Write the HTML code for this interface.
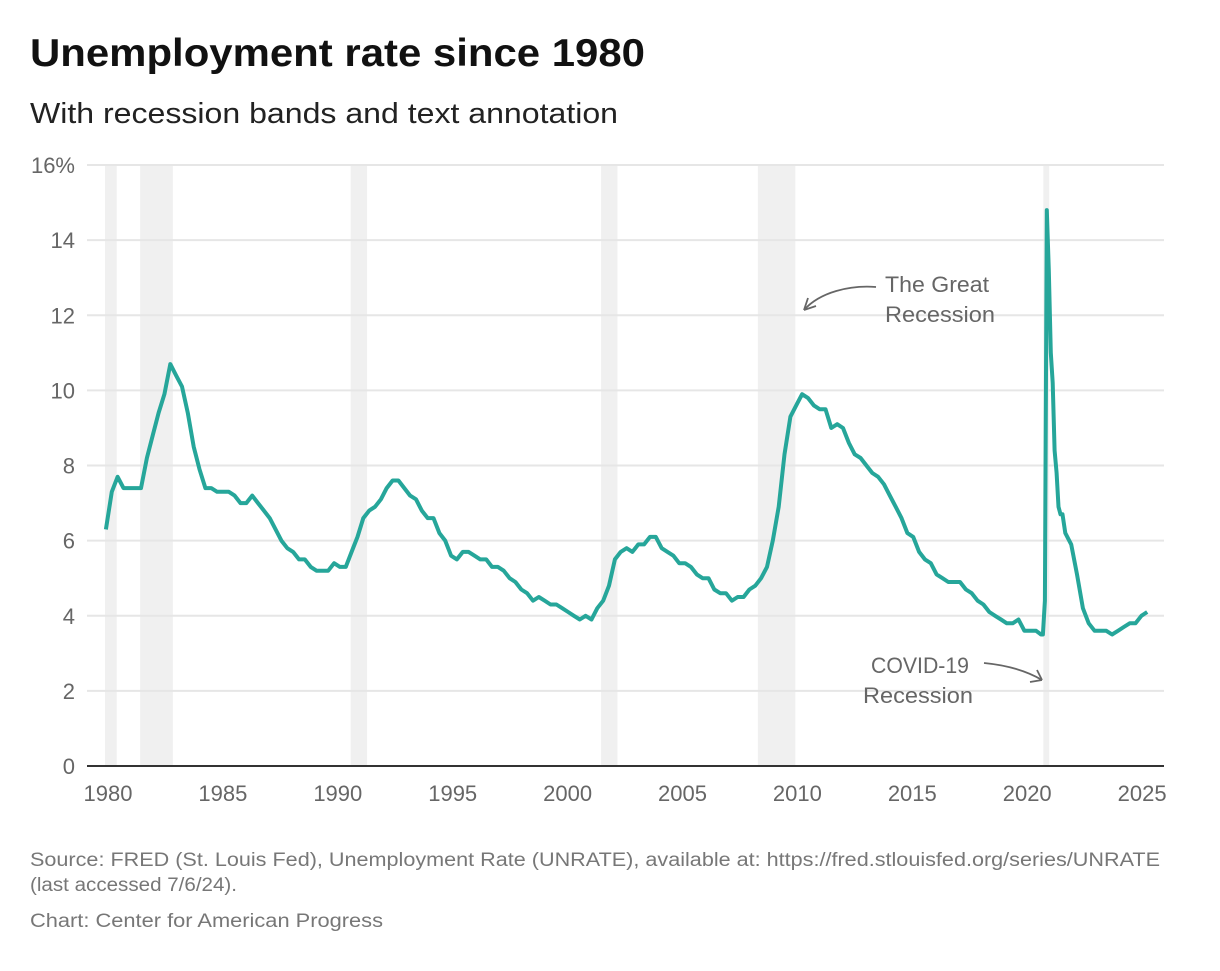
<!DOCTYPE html>
<html><head><meta charset="utf-8"><style>
body{margin:0;background:#fff;font-family:"Liberation Sans",sans-serif;}
#wrap{position:relative;width:1220px;height:966px;}
</style></head><body>
<div id="wrap">
<svg id="chart" width="1220" height="966">
<text x="30" y="66" font-size="39" font-weight="bold" fill="#111" textLength="615" lengthAdjust="spacingAndGlyphs">Unemployment rate since 1980</text>
<text x="30" y="123" font-size="29" fill="#222" textLength="588" lengthAdjust="spacingAndGlyphs">With recession bands and text annotation</text>
<g id="bands"></g><g id="grid"></g><g id="line"></g><g id="axes"></g>
<g>
<text x="937" y="292" font-size="22" fill="#666" text-anchor="middle" textLength="104" lengthAdjust="spacingAndGlyphs">The Great</text>
<text x="940" y="322" font-size="22" fill="#666" text-anchor="middle" textLength="110" lengthAdjust="spacingAndGlyphs">Recession</text>
<path d="M876,287 C850,285 820,292 804,310" stroke="#666" stroke-width="1.8" fill="none"/>
<path d="M804,310 L816,306 M804,310 L808,298" stroke="#666" stroke-width="1.8" fill="none"/>
</g>
<g>
<text x="920" y="673" font-size="22" fill="#666" text-anchor="middle" textLength="98" lengthAdjust="spacingAndGlyphs">COVID-19</text>
<text x="918" y="703" font-size="22" fill="#666" text-anchor="middle" textLength="110" lengthAdjust="spacingAndGlyphs">Recession</text>
<path d="M984,663 C1005,665 1025,670 1042,680" stroke="#666" stroke-width="1.8" fill="none"/>
<path d="M1042,680 L1030,682 M1042,680 L1037,670" stroke="#666" stroke-width="1.8" fill="none"/>
</g>
<text x="30" y="866" font-size="19" fill="#777" textLength="1130" lengthAdjust="spacingAndGlyphs">Source: FRED (St. Louis Fed), Unemployment Rate (UNRATE), available at: https://fred.stlouisfed.org/series/UNRATE</text>
<text x="30" y="891" font-size="19" fill="#777" textLength="207" lengthAdjust="spacingAndGlyphs">(last accessed 7/6/24).</text>
<text x="30" y="927" font-size="19" fill="#777" textLength="353" lengthAdjust="spacingAndGlyphs">Chart: Center for American Progress</text>
</svg>
</div>
<script>
const yTicks=[0,2,4,6,8,10,12,14,16];
const xTickLabels=[1980,1985,1990,1995,2000,2005,2010,2015,2020,2025];
const recessionStarts=[1980.0,1981.5,1990.5,2001.2,2007.9,2020.1];
const recessionEnds=[1980.5,1982.9,1991.2,2001.9,2009.5,2020.35];
const quarterly=[6.3,7.3,7.7,7.4, 7.4,7.4,7.4,8.2, 8.8,9.4,9.9,10.7, 10.4,10.1,9.4,8.5,
7.9,7.4,7.4,7.3, 7.3,7.3,7.2,7.0, 7.0,7.2,7.0,6.8, 6.6,6.3,6.0,5.8, 5.7,5.5,5.5,5.3,
5.2,5.2,5.2,5.4, 5.3,5.3,5.7,6.1, 6.6,6.8,6.9,7.1, 7.4,7.6,7.6,7.4, 7.2,7.1,6.8,6.6,
6.6,6.2,6.0,5.6, 5.5,5.7,5.7,5.6, 5.5,5.5,5.3,5.3, 5.2,5.0,4.9,4.7, 4.6,4.4,4.5,4.4,
4.3,4.3,4.2,4.1, 4.0,3.9,4.0,3.9, 4.2,4.4,4.8,5.5, 5.7,5.8,5.7,5.9, 5.9,6.1,6.1,5.8,
5.7,5.6,5.4,5.4, 5.3,5.1,5.0,5.0, 4.7,4.6,4.6,4.4, 4.5,4.5,4.7,4.8, 5.0,5.3,6.0,6.9,
8.3,9.3,9.6,9.9, 9.8,9.6,9.5,9.5, 9.0,9.1,9.0,8.6, 8.3,8.2,8.0,7.8, 7.7,7.5,7.2,6.9,
6.6,6.2,6.1,5.7, 5.5,5.4,5.1,5.0, 4.9,4.9,4.9,4.7, 4.6,4.4,4.3,4.1, 4.0,3.9,3.8,3.8,
3.9,3.6,3.6,3.6];
const monthly2020=[3.5,3.5,4.4,14.8,13.2,11.0,10.2,8.4,7.8,6.9,6.7,6.7];
const quarterlyAfter=[6.2,5.9,5.1,4.2, 3.8,3.6,3.6,3.6, 3.5,3.6,3.7,3.8, 3.8,4.0,4.1];
const NS="http://www.w3.org/2000/svg";
const X0=105,XS=23.4,Y0=766,YS=37.56;
const x=v=>X0+(v-1980)*XS, y=v=>Y0-v*YS;
function mk(t,a,p){const e=document.createElementNS(NS,t);for(const k in a)e.setAttribute(k,a[k]);document.getElementById(p).appendChild(e);return e;}
for(let i=0;i<recessionStarts.length;i++){
 const r=mk('rect',{x:x(recessionStarts[i]),y:165,width:x(recessionEnds[i])-x(recessionStarts[i]),height:601,fill:'#f0f0f0'},'bands');
 
 
}
yTicks.forEach(t=>{
 const l=mk('line',{x1:87,x2:1164,y1:y(t),y2:y(t),stroke:'#e6e6e6','stroke-width':2},'grid');
 
 
 const tx=mk('text',{x:75,y:y(t)+8,'font-size':22,fill:'#666','text-anchor':'end'},'axes');
 tx.textContent=t===16?'16%':t;
 
 
});
const base=mk('line',{x1:87,x2:1164,y1:766,y2:766,stroke:'#333','stroke-width':2},'axes');


xTickLabels.forEach((t,i)=>{
 const tx=mk('text',{x:108+i*114.9,y:801,'font-size':22,fill:'#666','text-anchor':'middle'},'axes');
 tx.textContent=t;
 
 
});
const pts=[];
quarterly.forEach((v,i)=>pts.push([1980+i*0.25+0.04,v]));
monthly2020.forEach((v,i)=>pts.push([2020+i/12,v]));
quarterlyAfter.forEach((v,i)=>pts.push([2021+i*0.25+0.04,v]));
const p=mk('polyline',{points:pts.map(q=>x(q[0]).toFixed(1)+','+y(q[1]).toFixed(1)).join(' '),fill:'none',stroke:'#26a69a','stroke-width':4,'stroke-linejoin':'round'},'line');


</script>
</body></html>
